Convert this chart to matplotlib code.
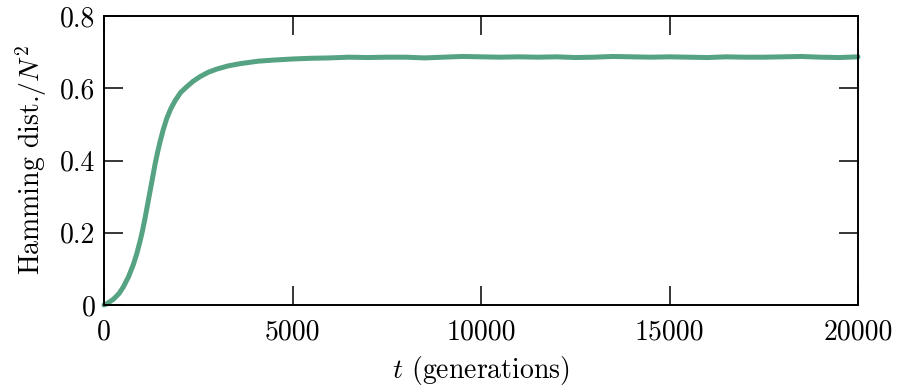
import numpy as np
import matplotlib
matplotlib.use("Agg")
import matplotlib.pyplot as plt

plt.rcParams['font.family'] = 'serif'
plt.rcParams['font.serif'] = ['cmr10', 'DejaVu Serif']
plt.rcParams['mathtext.fontset'] = 'cm'
plt.rcParams['axes.unicode_minus'] = False
plt.rcParams['axes.formatter.use_mathtext'] = True

# generations
T = [0, 70, 250, 400, 513, 650, 778, 870, 955, 1020, 1088, 1150, 1220, 1290,
     1353, 1420, 1485, 1570, 1663, 1770, 1883, 2030, 2193, 2360, 2546,
     2760, 2989, 3300, 3607, 4094, 4500, 5000, 5500, 6000, 6500, 7000,
     7500, 8000, 8500, 9000, 9500, 10000, 10500, 11000, 11500, 12000,
     12500, 13000, 13500, 14000, 14500, 15000, 15500, 16000, 16500,
     17000, 17500, 18000, 18500, 19000, 19500, 20000]
# normalised hamming distance
HAMMING = [0.0, 0.003, 0.016, 0.032, 0.05, 0.078, 0.112, 0.142, 0.176, 0.205,
           0.24, 0.275, 0.314, 0.353, 0.389, 0.422, 0.451, 0.485, 0.516,
           0.543, 0.565, 0.588, 0.604, 0.619, 0.632, 0.644, 0.653, 0.662,
           0.668, 0.675, 0.678, 0.681, 0.683, 0.684, 0.686, 0.685, 0.686,
           0.686, 0.684, 0.686, 0.688, 0.687, 0.686, 0.687, 0.686, 0.687,
           0.685, 0.686, 0.688, 0.687, 0.686, 0.687, 0.686, 0.685, 0.687,
           0.686, 0.686, 0.687, 0.688, 0.686, 0.685, 0.687]

X_TICKS = [0, 5000, 10000, 15000, 20000]
Y_TICKS = [0, 0.2, 0.4, 0.6, 0.8]
Y_LABELS = ['0', '0.2', '0.4', '0.6', '0.8']

fig = plt.figure(figsize=(8.98, 3.92), dpi=100)
ax = fig.add_axes([104 / 898, 1 - 305 / 392, (858 - 104) / 898, (305 - 16) / 392])

ax.plot(T, HAMMING, color='#55a383', lw=3.6, solid_capstyle='round',
        solid_joinstyle='round', clip_on=False)

ax.set_xlim(0, 20000)
ax.set_ylim(0, 0.8)
ax.set_xticks(X_TICKS)
ax.set_xticklabels([str(v) for v in X_TICKS])
ax.set_yticks(Y_TICKS)
ax.set_yticklabels(Y_LABELS)
ax.tick_params(direction='in', length=14, width=1.1, labelsize=20,
               top=True, right=True, pad=6)
ax.tick_params(axis='x', pad=10)
for s in ax.spines.values():
    s.set_linewidth(1.4)

ax.set_xlabel('$t$ (generations)', fontsize=20, labelpad=6)
ax.set_ylabel('Hamming dist.$/N^2$', fontsize=20, labelpad=8)

fig.savefig('out.png', dpi=100)
